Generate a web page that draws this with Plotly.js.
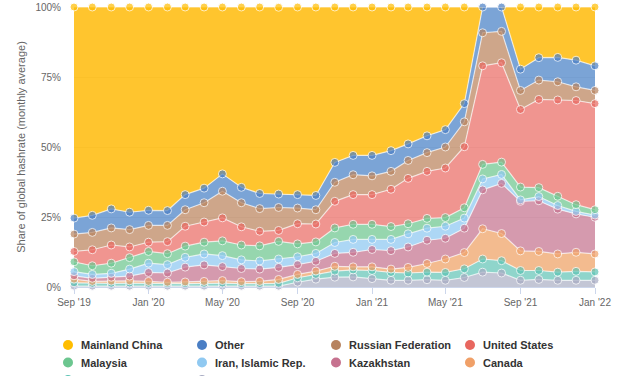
<!DOCTYPE html>
<html>
<head>
<meta charset="utf-8">
<script src="https://cdn.plot.ly/plotly-3.0.1.min.js"></script>
<style>
  html, body { margin: 0; padding: 0; background: #fff; }
  #chart { width: 627px; height: 376px; }
</style>
</head>
<body>
<div id="chart"></div>
<script>
// ---- Data (share of global hashrate, %, monthly average) ----
const months = ['2019-09-01','2019-10-01','2019-11-01','2019-12-01','2020-01-01','2020-02-01','2020-03-01',
  '2020-04-01','2020-05-01','2020-06-01','2020-07-01','2020-08-01','2020-09-01','2020-10-01','2020-11-01',
  '2020-12-01','2021-01-01','2021-02-01','2021-03-01','2021-04-01','2021-05-01','2021-06-01','2021-07-01',
  '2021-08-01','2021-09-01','2021-10-01','2021-11-01','2021-12-01','2022-01-01'];

const mainlandChina = [75.4,74.4,72.1,73.3,72.6,72.7,67.0,64.7,59.6,64.4,66.6,66.7,67.0,67.3,55.5,53.0,53.0,51.3,48.9,46.0,43.8,34.5,0,0,22.2,18.1,18.0,19.0,21.0];
const other         = [5.7,6.1,6.8,6.2,5.4,5.3,5.4,5.2,6.2,5.5,5.4,4.8,4.8,5.1,7.1,6.9,7.3,7.4,5.9,6.0,6.2,6.5,9.2,8.7,7.6,8.0,8.7,9.5,8.8];
const russia        = [6.2,6.2,6.1,6.2,6.0,5.8,5.9,6.9,9.5,8.6,8.1,8.2,5.6,5.1,6.8,7.1,6.7,6.4,6.4,6.7,7.5,8.9,11.8,11.2,6.8,6.9,6.5,4.9,4.7];
const unitedStates  = [3.7,5.7,6.5,3.8,3.3,4.3,7.1,7.2,8.2,6.5,5.2,3.9,7.2,6.4,9.5,10.6,10.6,13.3,16.2,16.8,17.7,21.8,35.2,35.5,27.7,31.5,34.4,37.2,37.9];
const malaysia      = [3.5,3.1,3.6,4.1,4.2,3.9,4.0,4.2,5.3,5.3,5.4,6.3,4.6,4.1,5.2,5.4,5.4,4.6,3.6,3.5,3.1,3.7,5.2,4.4,4.6,3.2,3.3,2.4,1.9];
const iran          = [1.5,1.4,1.4,2.5,3.3,3.0,3.5,3.9,3.9,3.1,2.9,3.0,2.8,2.8,3.9,4.6,3.6,4.0,4.7,4.3,4.3,3.6,3.9,3.2,0.5,1.5,1.3,0.9,0.8];
const kazakhstan    = [1.2,1.1,1.4,1.7,3.2,3.3,5.3,5.9,5.0,4.7,4.4,4.3,3.5,3.5,4.6,5.2,6.2,6.6,7.3,8.3,7.4,8.7,13.9,17.9,17.7,18.1,16.0,13.7,13.1];
const canada        = [1.3,0.7,0.8,0.8,0.7,0.5,0.6,0.7,0.9,0.7,0.8,1.4,1.2,1.2,1.7,1.1,1.3,1.2,2.0,3.1,4.8,5.8,10.8,9.7,7.0,6.8,6.5,6.8,6.4];
const germany       = [1.2,1.0,1.0,1.1,1.0,0.9,0.9,1.0,1.1,0.9,0.9,1.0,1.6,1.7,2.2,2.5,2.9,2.8,2.6,2.7,2.8,3.1,4.7,4.4,3.5,3.2,2.9,3.2,3.0];
const ireland       = [0.3,0.3,0.3,0.3,0.3,0.3,0.3,0.3,0.3,0.3,0.3,0.3,1.7,2.8,3.5,3.6,3.0,2.4,2.4,2.6,2.4,3.4,5.3,5.0,2.4,2.7,2.4,2.4,2.4];

const seriesNames = ['Mainland China','Other','Russian Federation','United States','Malaysia',
  'Iran, Islamic Rep.','Kazakhstan','Canada','Germany','Ireland'];
const yTickVals = [0, 25, 50, 75, 100];

// ---- Styling ----
const seriesValues = [mainlandChina, other, russia, unitedStates, malaysia, iran, kazakhstan, canada, germany, ireland];
const markerColors = ['#FFBD00','#4A7EC4','#B7835F','#E8675F','#6CC68F','#90C9F1','#C6728F','#F0A068','#5BC3B3','#A6AAC2'];
const fillColors = ['rgba(255,184,0,0.82)','rgba(90,141,204,0.8)','rgba(194,144,109,0.8)','rgba(236,122,116,0.8)',
  'rgba(124,204,154,0.8)','rgba(152,205,243,0.8)','rgba(202,129,154,0.8)','rgba(240,170,115,0.8)',
  'rgba(115,203,190,0.8)','rgba(180,184,202,0.8)'];

const traces = [];
// plotly stacks in trace order (first at bottom) -> add from last (Ireland) to first (China)
for (let i = seriesNames.length - 1; i >= 0; i--) {
  const vals = seriesValues[i];
  traces.push({
    type: 'scatter',
    mode: 'lines+markers',
    name: seriesNames[i],
    x: months,
    y: vals,
    stackgroup: 'one',
    fillcolor: fillColors[i],
    line: { color: 'rgba(255,255,255,0.65)', width: 1.2, shape: 'linear' },
    marker: {
      color: markerColors[i],
      size: vals.map(v => (v > 0 ? 8 : 0)),
      line: { color: '#ffffff', width: 1 }
    },
    cliponaxis: false,
    showlegend: false,
    hoverinfo: 'skip'
  });
}

// ---- Layout geometry ----
const W = 627, H = 376;
const M = { l: 74, r: 32, t: 7, b: 89 };
const plotW = W - M.l - M.r, plotH = H - M.t - M.b;
const xp = px => (px - M.l) / plotW;
const yp = py => (H - M.b - py) / plotH;

// custom legend (4 columns); the third row lies below the visible area,
// only the tops of its symbols show, as in the reference
const colX = [68, 202, 336, 470];
const rowY = [345, 362.5, 380];
const shapes = [], annotations = [];
seriesNames.forEach((name, i) => {
  const row = Math.floor(i / 4);
  const cx = colX[i % 4], cy = rowY[row];
  shapes.push({
    type: 'circle', xref: 'paper', yref: 'paper',
    xsizemode: 'pixel', ysizemode: 'pixel',
    xanchor: xp(cx), yanchor: yp(cy),
    x0: -5, x1: 5, y0: -5, y1: 5,
    fillcolor: markerColors[i], line: { width: 0 }
  });
  if (row < 2) {
    annotations.push({
      xref: 'paper', yref: 'paper', x: xp(cx), y: yp(cy),
      xshift: 11, xanchor: 'left', yanchor: 'middle', showarrow: false,
      text: '<b>' + name + '</b>',
      font: { family: 'Liberation Sans, Arial, sans-serif', size: 11, color: '#333333' }
    });
  }
});

const layout = {
  width: W, height: H,
  margin: M,
  paper_bgcolor: '#ffffff',
  plot_bgcolor: '#ffffff',
  showlegend: false,
  font: { family: 'Liberation Sans, Arial, sans-serif', color: '#666666', size: 10 },
  xaxis: {
    type: 'date',
    range: [months[0], months[months.length - 1]],
    tick0: months[0],
    dtick: 'M4',
    tickformat: "%b '%y",
    ticks: 'outside', ticklen: 6, tickcolor: '#ccd6eb', tickwidth: 1,
    showline: true, linecolor: '#ccd6eb', linewidth: 1,
    showgrid: false, zeroline: false,
    tickfont: { size: 10, color: '#666666' },
    fixedrange: true
  },
  yaxis: {
    range: [0, 100],
    tickvals: yTickVals,
    ticktext: yTickVals.map(v => v + '%'),
    ticks: '', ticklabelstandoff: 12,
    ticklabeloverflow: 'allow',
    showgrid: true, gridcolor: '#e6e6e6', gridwidth: 1,
    zeroline: false, showline: false,
    tickfont: { size: 10, color: '#666666' },
    title: { text: 'Share of global hashrate (monthly average)', font: { size: 11, color: '#666666' }, standoff: 7 },
    fixedrange: true
  },
  shapes: shapes,
  annotations: annotations
};

Plotly.newPlot('chart', traces, layout, { displayModeBar: false, staticPlot: true });
</script>
</body>
</html>
